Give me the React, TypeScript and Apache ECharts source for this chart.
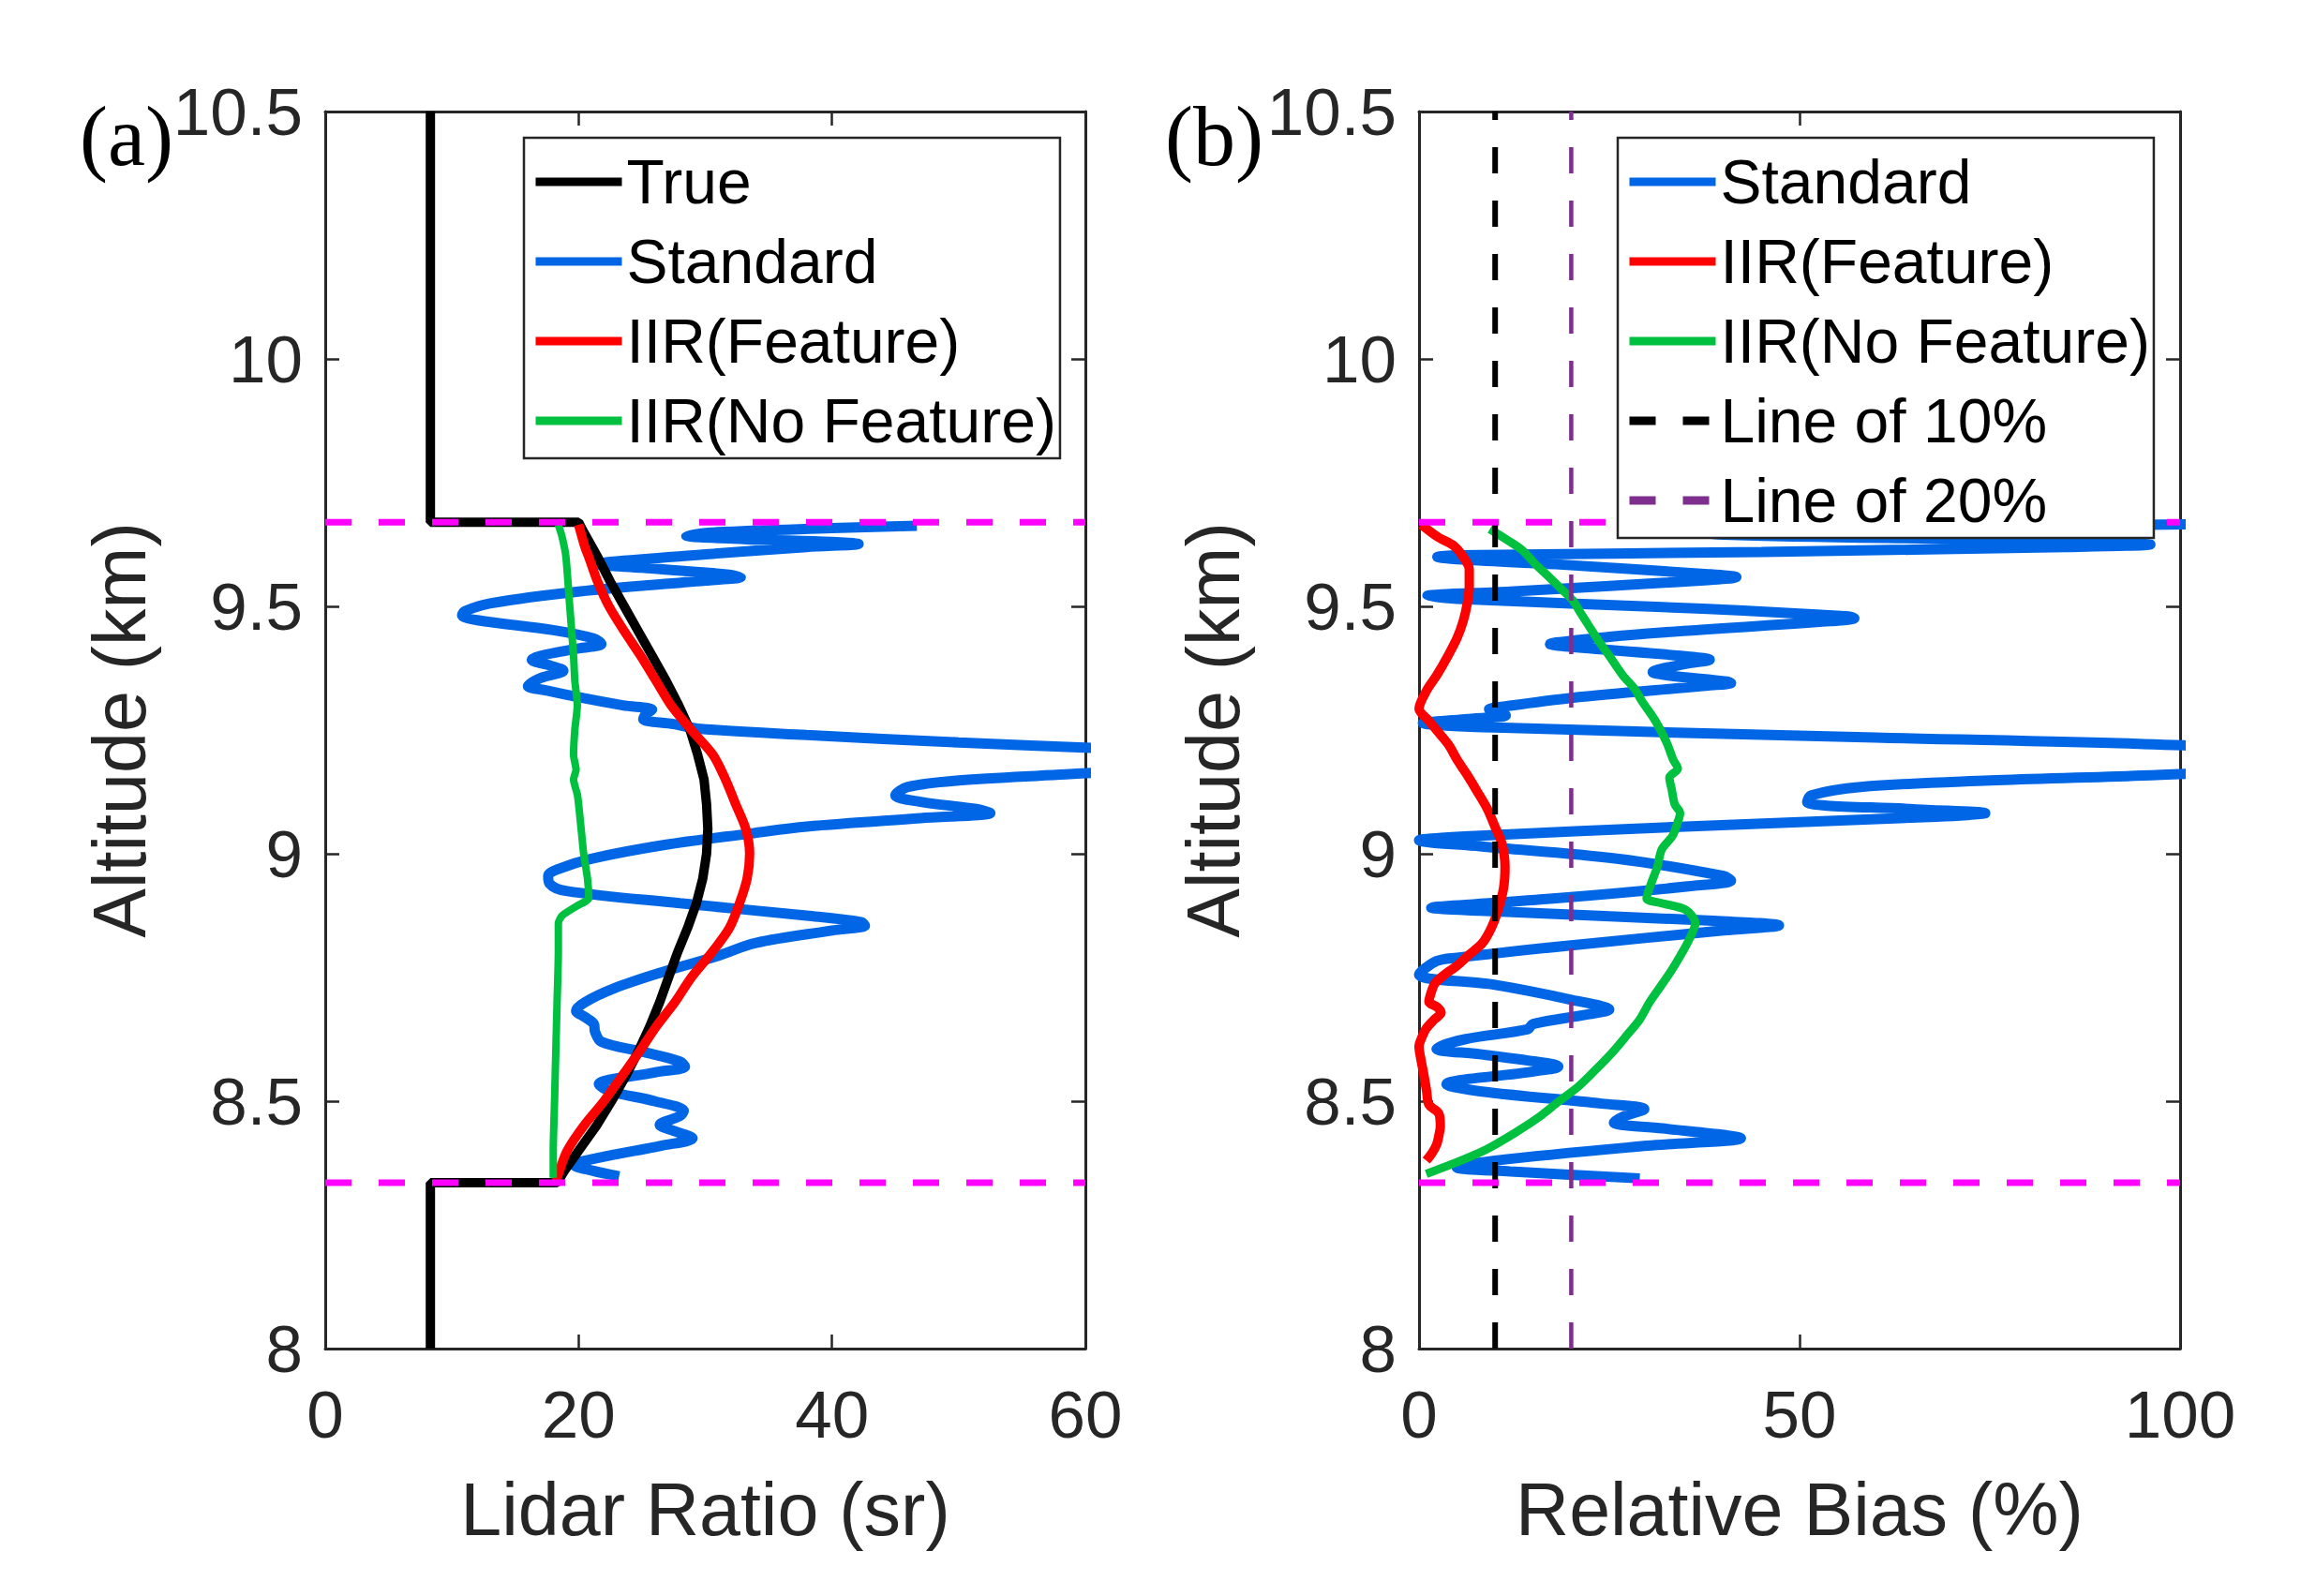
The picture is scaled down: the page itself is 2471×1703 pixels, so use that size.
import React, { useEffect, useRef } from "react";
import * as echarts from "echarts";

// ---------- Data ----------
// Panel (a): lidar ratio (sr) vs altitude (km)
const trueAlt = [10.5, 9.67, 9.67, 9.65, 9.6, 9.55, 9.5, 9.45, 9.4, 9.35, 9.3, 9.25, 9.2, 9.15, 9.1, 9.05, 9.0, 8.95, 8.9, 8.85, 8.8, 8.75, 8.7, 8.65, 8.6, 8.55, 8.5, 8.45, 8.4, 8.36, 8.335, 8.335, 8.0];
const trueLR = [8.3, 8.3, 20.0, 20.4, 21.5, 22.5, 23.6, 24.7, 25.8, 26.9, 27.9, 28.8, 29.4, 29.9, 30.1, 30.2, 30.1, 29.8, 29.3, 28.6, 27.8, 27.1, 26.4, 25.6, 24.7, 23.7, 22.6, 21.4, 20.0, 18.9, 18.3, 8.3, 8.3];

const stdAltA = [9.663, 9.658, 9.65, 9.643, 9.636, 9.63, 9.626, 9.62, 9.605, 9.59, 9.585, 9.578, 9.565, 9.559, 9.552, 9.53, 9.506, 9.49, 9.482, 9.472, 9.452, 9.435, 9.424, 9.415, 9.4, 9.392, 9.38, 9.37, 9.355, 9.339, 9.33, 9.317, 9.3, 9.291, 9.282, 9.272, 9.262, 9.253, 9.24, 9.225, 9.214, 9.195, 9.172, 9.16, 9.148, 9.135, 9.118, 9.105, 9.09, 9.082, 9.072, 9.055, 9.041, 9.018, 8.99, 8.97, 8.955, 8.94, 8.925, 8.9, 8.875, 8.862, 8.855, 8.845, 8.82, 8.792, 8.76, 8.728, 8.7, 8.683, 8.67, 8.656, 8.64, 8.62, 8.6, 8.58, 8.57, 8.558, 8.534, 8.52, 8.5, 8.48, 8.47, 8.452, 8.44, 8.425, 8.41, 8.385, 8.371, 8.36, 8.348];
const stdLRA = [46.7, 40, 31, 28.5, 33, 40, 42.1, 38, 30, 22.5, 21.6, 25, 31.5, 32.8, 30, 20, 13, 11, 10.8, 12, 18, 21.2, 21.8, 20, 17, 16.3, 17.8, 18.8, 17, 16.0, 17.5, 19.9, 23.5, 25.8, 25.3, 25.1, 27.5, 29.4, 38, 50, 60.5, 78, 66, 58, 50, 46, 45.0, 47, 51.5, 52.5, 47, 38, 33.6, 26.8, 21, 18.5, 17.6, 17.7, 19, 28, 38, 42.3, 42.6, 40, 34, 30.8, 26.5, 22.8, 20.5, 19.8, 20.5, 21.2, 21.3, 21.8, 25, 28.0, 28.4, 26, 21.6, 22.5, 26, 28.3, 28.0, 26.4, 27.5, 29.0, 26.5, 21.5, 19.6, 21, 23.2];

const featAltA = [9.665, 9.62, 9.6, 9.55, 9.5, 9.45, 9.4, 9.35, 9.3, 9.25, 9.2, 9.15, 9.1, 9.05, 9.0, 8.95, 8.9, 8.85, 8.8, 8.75, 8.7, 8.65, 8.6, 8.55, 8.5, 8.45, 8.4, 8.36, 8.335];
const featLRA = [20.0, 20.5, 20.8, 21.5, 22.4, 23.6, 24.9, 26.1, 27.3, 28.9, 30.6, 31.6, 32.4, 33.2, 33.5, 33.3, 32.7, 31.9, 30.5, 28.9, 27.6, 26.1, 24.8, 23.4, 22.0, 20.4, 19.1, 18.5, 18.2];

const noFeatAltA = [9.665, 9.64, 9.6, 9.5, 9.4, 9.35, 9.3, 9.25, 9.2, 9.17, 9.15, 9.12, 9.1, 9.05, 9.0, 8.95, 8.91, 8.895, 8.875, 8.86, 8.8, 8.7, 8.6, 8.5, 8.4, 8.345];
const noFeatLRA = [18.4, 18.7, 19.0, 19.3, 19.6, 19.7, 19.9, 19.7, 19.6, 19.8, 19.6, 19.9, 20.0, 20.2, 20.4, 20.7, 20.8, 19.9, 18.7, 18.4, 18.4, 18.3, 18.2, 18.1, 18.0, 18.0];

// Panel (b): relative bias (%) vs altitude (km)
const stdAltB = [9.667, 9.662, 9.655, 9.645, 9.635, 9.628, 9.625, 9.62, 9.61, 9.603, 9.6, 9.595, 9.585, 9.565, 9.559, 9.553, 9.53, 9.521, 9.515, 9.495, 9.48, 9.476, 9.47, 9.445, 9.427, 9.424, 9.418, 9.398, 9.392, 9.385, 9.367, 9.36, 9.348, 9.345, 9.34, 9.315, 9.295, 9.292, 9.28, 9.272, 9.264, 9.255, 9.235, 9.219, 9.19, 9.158, 9.148, 9.135, 9.118, 9.104, 9.09, 9.082, 9.075, 9.055, 9.035, 9.027, 9.015, 8.99, 8.955, 8.946, 8.935, 8.91, 8.893, 8.891, 8.885, 8.865, 8.855, 8.845, 8.815, 8.79, 8.783, 8.756, 8.735, 8.705, 8.685, 8.675, 8.656, 8.645, 8.625, 8.606, 8.595, 8.575, 8.57, 8.56, 8.534, 8.52, 8.495, 8.484, 8.47, 8.457, 8.445, 8.425, 8.41, 8.38, 8.366, 8.358, 8.344];
const stdBiasB = [115, 70, 35, 40, 75, 93, 96.1, 85, 45, 5, 2.4, 5, 18, 38, 41.7, 38, 12, 1.1, 5, 38, 56, 57.2, 54, 30, 18, 17.2, 20, 36, 38.2, 35.5, 30.7, 33, 40.5, 41.0, 38, 20, 10, 9.2, 11.4, 6, 0.5, 10, 60, 100.5, 140, 95, 75, 58, 51.5, 51, 65, 74.4, 68, 35, 6, 0, 8, 26, 40, 41.0, 36, 18, 2.5, 1.6, 8, 38, 47.3, 40, 20, 5, 2.3, 0.0, 10, 20, 25.0, 22, 15.0, 14.2, 6, 2.3, 8, 17.5, 18.3, 15, 3.6, 8, 24, 29.6, 27, 25.6, 32, 42.3, 30, 10, 4.95, 12, 29.0];

const featAltB = [9.665, 9.64, 9.622, 9.6, 9.575, 9.54, 9.503, 9.47, 9.436, 9.4, 9.36, 9.33, 9.293, 9.27, 9.25, 9.22, 9.19, 9.16, 9.127, 9.09, 9.054, 9.02, 8.973, 8.93, 8.882, 8.85, 8.819, 8.795, 8.774, 8.755, 8.738, 8.72, 8.701, 8.69, 8.679, 8.665, 8.647, 8.63, 8.611, 8.58, 8.556, 8.52, 8.493, 8.475, 8.45, 8.43, 8.412, 8.395, 8.38];
const featBiasB = [0.3, 2.5, 4.6, 5.8, 6.6, 6.6, 6.3, 5.8, 5.0, 3.8, 2.3, 1.0, 0.0, 1.2, 2.3, 3.9, 5.0, 6.3, 7.6, 9.0, 10.0, 10.9, 11.3, 11.1, 10.3, 9.5, 8.3, 6.5, 5.0, 3.3, 2.1, 1.6, 1.3, 2.4, 2.9, 2.0, 0.95, 0.4, 0.0, 0.3, 0.6, 1.0, 1.3, 2.6, 2.8, 2.6, 2.3, 1.7, 0.95];

const noFeatAltB = [9.656, 9.635, 9.613, 9.585, 9.562, 9.535, 9.512, 9.485, 9.461, 9.43, 9.4, 9.36, 9.334, 9.308, 9.27, 9.226, 9.19, 9.172, 9.154, 9.13, 9.1, 9.082, 9.06, 9.036, 9.009, 8.973, 8.94, 8.91, 8.901, 8.887, 8.86, 8.83, 8.801, 8.765, 8.729, 8.7, 8.665, 8.635, 8.602, 8.565, 8.529, 8.5, 8.466, 8.435, 8.403, 8.38, 8.353];
const noFeatBiasB = [9.3, 11.5, 13.6, 15.3, 16.9, 18.7, 20.2, 21.3, 22.3, 23.6, 25.0, 26.8, 28.3, 29.3, 31.0, 32.5, 33.4, 34.0, 32.9, 33.2, 33.6, 34.3, 33.9, 33.3, 31.9, 31.3, 30.5, 29.9, 31.6, 35.0, 36.3, 35.6, 34.6, 33.2, 31.6, 30.3, 29.0, 27.4, 25.6, 23.3, 20.9, 18.4, 15.6, 12.5, 8.9, 5.5, 0.95];

// Reference lines
const cloudBounds = [9.67, 8.335]; // cloud top / base (km)
const biasLines = [10, 20]; // %
const altRange = [8, 10.5];
const lrRange = [0, 60];
const biasRange = [0, 100];

// Ticks
const altInterval = 0.5;
const lrInterval = 20;
const biasInterval = 50;

// ---------- Styles ----------
const SANS = '"Liberation Sans", Arial, Helvetica, sans-serif';
const AXIS = "#262626";
const BLUE = "#0066E6";
const RED = "#FF0000";
const GREEN = "#00C040";
const MAGENTA = "#FF00FF";
const PURPLE = "#7E2F8E";

const zip = (xs: number[], ys: number[]) => xs.map((x, i) => [x, ys[i]]);

function makeX(gridIndex: number, range: number[], interval: number, pos: "bottom" | "top", name?: string) {
  const bottom = pos === "bottom";
  return {
    gridIndex,
    type: "value",
    position: pos,
    min: range[0],
    max: range[1],
    interval,
    axisLine: { show: true, onZero: false, lineStyle: { color: AXIS, width: 3 } },
    axisTick: { show: true, inside: true, length: 15, lineStyle: { color: AXIS, width: 2.5 } },
    axisLabel: { show: bottom, fontSize: 71, fontFamily: SANS, color: AXIS, margin: 35 },
    splitLine: { show: false },
    name: bottom ? name : "",
    nameLocation: "middle",
    nameGap: 132,
    nameTextStyle: { fontSize: 79, fontFamily: SANS, color: AXIS },
  };
}

function makeY(gridIndex: number, pos: "left" | "right") {
  const left = pos === "left";
  return {
    gridIndex,
    type: "value",
    position: pos,
    min: altRange[0],
    max: altRange[1],
    interval: altInterval,
    axisLine: { show: true, onZero: false, lineStyle: { color: AXIS, width: 3 } },
    axisTick: { show: true, inside: true, length: 15, lineStyle: { color: AXIS, width: 2.5 } },
    axisLabel: { show: left, fontSize: 71, fontFamily: SANS, color: AXIS, margin: 24 },
    splitLine: { show: false },
    name: left ? "Altitude (km)" : "",
    nameLocation: "middle",
    nameGap: 180,
    nameTextStyle: { fontSize: 79, fontFamily: SANS, color: AXIS },
  };
}

function lineSeries(name: string, data: number[][], color: string, width: number, xi: number, yi: number, extra: any = {}) {
  return {
    name,
    type: "line",
    xAxisIndex: xi,
    yAxisIndex: yi,
    data,
    symbol: "none",
    showSymbol: false,
    silent: true,
    clip: true,
    lineStyle: { color, width, ...(extra.lineStyle || {}) },
    itemStyle: { color },
    smooth: extra.smooth ?? false,
    z: extra.z ?? 2,
  };
}

function legendCfg(names: string[], left: number, top: number) {
  return {
    data: names,
    orient: "vertical",
    left,
    top,
    itemWidth: 92,
    itemHeight: 6,
    itemGap: 13,
    padding: [11, 4, 4, 8],
    backgroundColor: "#ffffff",
    borderColor: AXIS,
    borderWidth: 2.5,
    selectedMode: false,
    textStyle: { fontSize: 66, fontFamily: SANS, color: "#000", lineHeight: 72 },
    lineStyle: { width: 9 },
    itemStyle: { opacity: 0 },
    z: 10,
  };
}

export default function App() {
  const ref = useRef<HTMLDivElement>(null);

  useEffect(() => {
    if (!ref.current) return;
    const chart = echarts.init(ref.current, undefined, { renderer: "svg" });

    const dash = [28, 29];
    const series: any[] = [
      // Panel (a)
      lineSeries("Standard", zip(stdLRA, stdAltA), BLUE, 11, 0, 0, { smooth: 0.35 }),
      lineSeries("True", zip(trueLR, trueAlt), "#000000", 10, 0, 0),
      lineSeries("IIR(Feature)", zip(featLRA, featAltA), RED, 10, 0, 0, { smooth: 0.3 }),
      lineSeries("IIR(No Feature)", zip(noFeatLRA, noFeatAltA), GREEN, 8, 0, 0, { smooth: 0.2 }),
      ...cloudBounds.map((a, i) =>
        lineSeries("cloudA" + i, [[lrRange[0], a], [lrRange[1], a]], MAGENTA, 7, 0, 0, { lineStyle: { type: dash } })
      ),
      // Panel (b)
      lineSeries("Standard", zip(stdBiasB, stdAltB), BLUE, 11, 2, 2, { smooth: 0.35 }),
      lineSeries("IIR(Feature)", zip(featBiasB, featAltB), RED, 10, 2, 2, { smooth: 0.3 }),
      lineSeries("IIR(No Feature)", zip(noFeatBiasB, noFeatAltB), GREEN, 9, 2, 2, { smooth: 0.3 }),
      lineSeries("Line of 10%", [[biasLines[0], altRange[0]], [biasLines[0], altRange[1]]], "#000000", 6, 2, 2, { lineStyle: { type: dash } }),
      lineSeries("Line of 20%", [[biasLines[1], altRange[0]], [biasLines[1], altRange[1]]], PURPLE, 4.5, 2, 2, { lineStyle: { type: dash } }),
      ...cloudBounds.map((a, i) =>
        lineSeries("cloudB" + i, [[biasRange[0], a], [biasRange[1], a]], MAGENTA, 7, 2, 2, { lineStyle: { type: dash } })
      ),
    ];

    chart.setOption({
      animation: false,
      backgroundColor: "#ffffff",
      grid: [
        { left: 347, top: 119, width: 811, height: 1320 },
        { left: 1514, top: 119, width: 812, height: 1320 },
      ],
      xAxis: [
        makeX(0, lrRange, lrInterval, "bottom", "Lidar Ratio (sr)"),
        makeX(0, lrRange, lrInterval, "top"),
        makeX(1, biasRange, biasInterval, "bottom", "Relative Bias (%)"),
        makeX(1, biasRange, biasInterval, "top"),
      ],
      yAxis: [makeY(0, "left"), makeY(0, "right"), makeY(1, "left"), makeY(1, "right")],
      legend: [
        legendCfg(["True", "Standard", "IIR(Feature)", "IIR(No Feature)"], 559, 147),
        legendCfg(["Standard", "IIR(Feature)", "IIR(No Feature)", "Line of 10%", "Line of 20%"], 1726, 147),
      ],
      graphic: [
        {
          type: "text",
          x: 85,
          y: 145,
          style: { text: "(a)", fontSize: 90, fontFamily: '"Liberation Serif", "Times New Roman", serif', fill: "#000", align: "left", verticalAlign: "middle" },
        },
        {
          type: "text",
          x: 1243,
          y: 145,
          style: { text: "(b)", fontSize: 90, fontFamily: '"Liberation Serif", "Times New Roman", serif', fill: "#000", align: "left", verticalAlign: "middle" },
        },
      ],
      series,
    });

    return () => chart.dispose();
  }, []);

  return (
    <div
      ref={ref}
      style={{ position: "fixed", left: 0, top: 0, width: 2471, height: 1703, background: "#fff" }}
    />
  );
}
